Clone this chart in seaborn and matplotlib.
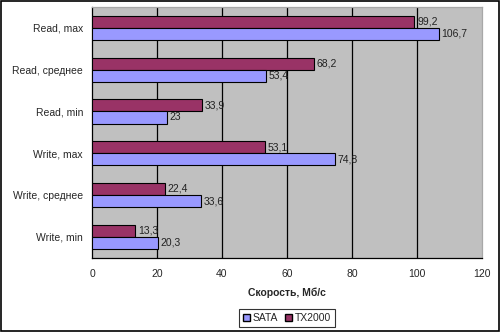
import matplotlib
matplotlib.use("Agg")
import matplotlib.pyplot as plt
import seaborn as sns
import pandas as pd
from matplotlib.patches import Rectangle, Patch

categories = ["Read, max", "Read, среднее", "Read, min", "Write, max", "Write, среднее", "Write, min"]
sata = [106.7, 53.4, 23, 74.8, 33.6, 20.3]
tx2000 = [99.2, 68.2, 33.9, 53.1, 22.4, 13.3]
series = ["TX2000", "SATA"]
x_ticks = [0, 20, 40, 60, 80, 100, 120]

colors = {"SATA": "#9999FF", "TX2000": "#993366"}

df = pd.DataFrame({
    "cat": categories * 2,
    "val": tx2000 + sata,
    "series": ["TX2000"] * len(categories) + ["SATA"] * len(categories),
})

sns.set_style("white")
plt.rcParams['font.family'] = ['Liberation Sans', 'DejaVu Sans']

fig = plt.figure(figsize=(5.0, 3.32), dpi=100)
ax = fig.add_axes([0.184, 0.224, 0.780, 0.755])
ax.set_facecolor("#C0C0C0")

sns.barplot(data=df, x="val", y="cat", hue="series", order=categories, hue_order=series,
            palette=colors, orient="h", width=0.58, edgecolor="black", linewidth=0.8,
            saturation=1, ax=ax, legend=False, zorder=3)

ax.set_xlim(0, 120)
ax.set_ylim(len(categories) - 0.5, -0.5)
ax.set_xticks(x_ticks)
ax.set_xticklabels([str(t) for t in x_ticks], fontsize=7.5)
ax.tick_params(axis="x", length=4, width=0.8, direction="out", color="black", pad=4)
ax.set_yticks(range(len(categories)))
ax.set_yticklabels(categories, fontsize=7.5)
ax.tick_params(axis="y", which="major", length=0, pad=6.5)
ax.set_yticks([i - 0.5 for i in range(len(categories) + 1)], minor=True)
ax.tick_params(axis="y", which="minor", length=4, width=0.8, direction="out", color="black")

for t in x_ticks[1:-1]:
    ax.axvline(t, color="black", linewidth=0.9, zorder=1)

ax.set_xlabel("Скорость, Мб/с", fontsize=7.5, fontweight="bold", labelpad=6)
ax.set_ylabel("")

for side in ["left", "bottom"]:
    ax.spines[side].set_color("black")
    ax.spines[side].set_linewidth(0.9)
for side in ["top", "right"]:
    ax.spines[side].set_color("#A8A8A8")
    ax.spines[side].set_linewidth(0.9)

def fmt(v):
    s = ("%g" % v).replace(".", ",")
    return s

for cont in ax.containers:
    ax.bar_label(cont, labels=[fmt(v) for v in cont.datavalues], padding=2, fontsize=7.5, color="#222222")

handles = [Patch(facecolor=colors["SATA"], edgecolor="black", label="SATA"),
           Patch(facecolor=colors["TX2000"], edgecolor="black", label="TX2000")]
leg = fig.legend(handles=handles, loc="center", bbox_to_anchor=(0.574, 0.042), ncol=2,
                 fontsize=7.5, frameon=True, fancybox=False, handlelength=0.7, handleheight=0.7,
                 handletextpad=0.3, columnspacing=0.6, borderpad=0.35, borderaxespad=0)
leg.get_frame().set_edgecolor("black")
leg.get_frame().set_linewidth(0.8)

fig.patches.append(Rectangle((0.001, 0.002), 0.997, 0.996, transform=fig.transFigure,
                             fill=False, edgecolor="black", linewidth=1.2))

fig.savefig("out.png", dpi=100)
